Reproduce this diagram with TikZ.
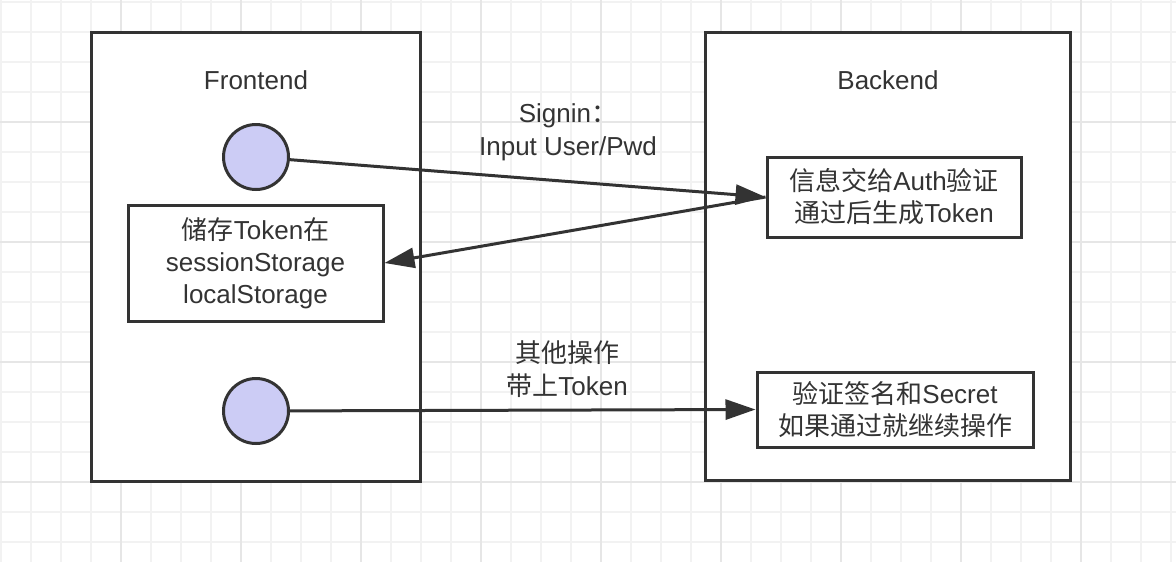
\documentclass[tikz,border=0pt]{standalone}
\usepackage{fontspec}
\setmainfont{Liberation Sans}
\newfontfamily\cjk{Noto Sans CJK SC}
\newcommand{\zh}[1]{{\cjk #1}}
\usepackage{tikz}
\usetikzlibrary{arrows.meta, positioning}
\definecolor{ink}{HTML}{333333}
\definecolor{lavender}{RGB}{204,204,245}
\definecolor{gridminor}{HTML}{F2F2F2}
\definecolor{gridmajor}{HTML}{E6E6E6}

\begin{document}
\begin{tikzpicture}[x=0.5pt, y=-0.5pt,
  panel/.style={draw=ink, line width=1.5pt, fill=white, inner sep=0pt},
  stepbox/.style={draw=ink, line width=1.5pt, fill=white, align=center, text=ink, font=\fontsize{13}{16}\selectfont, inner sep=0pt},
  bubble/.style={circle, draw=ink, line width=1.5pt, fill=lavender, minimum size=32.5pt, inner sep=0pt},
  txt/.style={text=ink, align=center, font=\fontsize{13}{16.5}\selectfont},
  >={Triangle[length=15pt, width=10pt]}]
  \useasboundingbox (0,0) rectangle (1176,562);
  % background grid
  \foreach \x in {1,31,...,1171} \draw[gridminor, line width=0.6pt] (\x,0) -- (\x,562);
  \foreach \y in {2,32,...,542} \draw[gridminor, line width=0.6pt] (0,\y) -- (1176,\y);
  \foreach \x in {121,241,...,1081} \draw[gridmajor, line width=0.6pt] (\x,0) -- (\x,562);
  \foreach \y in {122,242,362,482} \draw[gridmajor, line width=0.6pt] (0,\y) -- (1176,\y);

  % the two sides
  \node[panel, minimum width=164.5pt, minimum height=224.5pt] (front) at (255.5,256.5) {};
  \node[panel, minimum width=182.5pt, minimum height=224pt] (back) at (887.5,256) {};
  \node[txt] (frontlbl) at (256,80) {Frontend};
  \node[txt] (backlbl) at (888,80) {Backend};

  \node[bubble] (signin) at (256,157) {};
  \node[bubble, below=93pt of signin] (request) {};
  \node[stepbox, minimum width=127.5pt, minimum height=58pt] (store) at (255.5,263)
    {\zh{储存}Token\zh{在}\\sessionStorage\\localStorage};
  \node[stepbox, minimum width=127pt, minimum height=40pt] (auth) at (894,197)
    {\zh{信息交给}Auth\zh{验证}\\\zh{通过后生成}Token};
  \node[stepbox, minimum width=138pt, minimum height=37.5pt] (verify) at (895,409.5)
    {\zh{验证签名和}Secret\\\zh{如果通过就继续操作}};

  \draw[->, ink, line width=1.5pt] (signin) -- (auth.west);
  \draw[->, ink, line width=1.5pt] (auth.west) -- (store.east);
  \draw[->, ink, line width=1.5pt] (request) -- (verify.west);

  \node[txt] (signinlbl) at (568,132) {Signin\zh{：}\\Input User/Pwd};
  \node[txt] (requestlbl) at (567,369) {\zh{其他操作}\\\zh{带上}Token};
\end{tikzpicture}
\end{document}
